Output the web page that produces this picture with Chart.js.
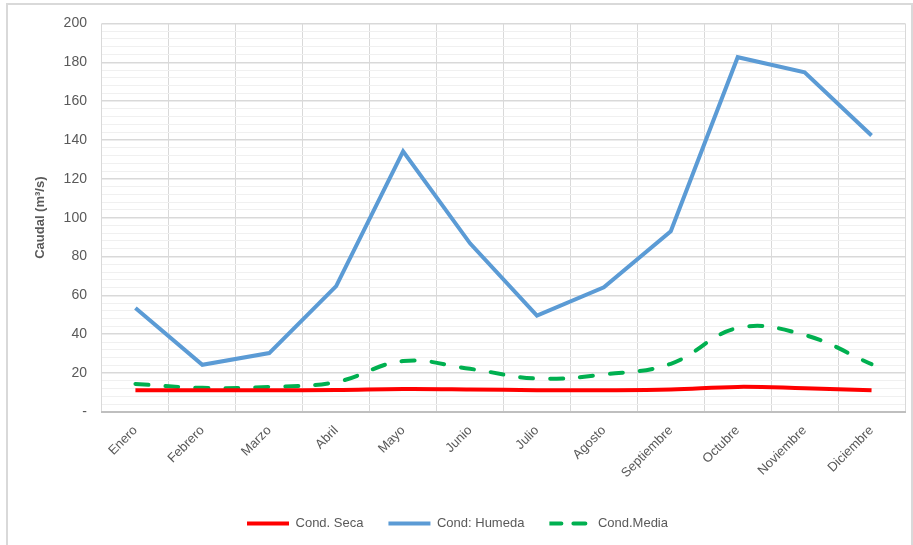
<!DOCTYPE html>
<html>
<head>
<meta charset="utf-8">
<script src="https://cdn.jsdelivr.net/npm/chart.js@4"></script>
<style>
    body { margin: 0; background: #fff; }
    #marco { position: absolute; left: 6px; top: 3px; width: 903px; height: 560px; border: 2px solid #d9d9d9; }
    #wrap { position: absolute; left: 0; top: 0; width: 913px; height: 545px; }
</style>
</head>
<body>
<div id="marco"></div>
<div id="wrap"><canvas id="caudal-chart"></canvas></div>
<script>
const MESES  = ["Enero", "Febrero", "Marzo", "Abril", "Mayo", "Junio", "Julio", "Agosto", "Septiembre", "Octubre", "Noviembre", "Diciembre"];
const SECA   = [11.2, 11.2, 11.2, 11.3, 11.8, 11.6, 11.2, 11.2, 11.6, 12.9, 12.2, 11.2];
const HUMEDA = [53.5, 24.3, 30.3, 64.8, 134.2, 86.8, 49.6, 64.2, 93.0, 182.6, 174.8, 142.3];
const MEDIA  = [14.4, 12.4, 12.9, 15.4, 26.2, 22.2, 17.2, 19.3, 24.8, 43.2, 39.6, 24.6];

const FONT = "'Liberation Sans', Arial, sans-serif";
Chart.defaults.font.family = FONT;
Chart.defaults.color = "#595959";

/**
 * caudal mensual ==========================================================
 */
function chartCaudal() {
    const data = {
        labels: MESES,
        datasets: [
            {
                label: 'Cond. Seca',
                borderColor: '#ff0000',
                backgroundColor: '#ff0000',
                borderWidth: 4,
                tension: 0.4,
                pointRadius: 0,
                data: SECA,
            },
            {
                label: 'Cond: Humeda',
                borderColor: '#5b9bd5',
                backgroundColor: '#5b9bd5',
                borderWidth: 4,
                tension: 0,
                pointRadius: 0,
                data: HUMEDA,
            },
            {
                label: 'Cond.Media',
                borderColor: '#00b050',
                backgroundColor: '#00b050',
                borderWidth: 4,
                borderDash: [13, 17],
                borderCapStyle: 'round',
                tension: 0.4,
                pointRadius: 0,
                data: MEDIA,
            },
        ],
    };

    const config = {
        type: 'line',
        data: data,
        options: {
            responsive: true,
            maintainAspectRatio: false,
            animation: false,
            layout: {
                padding: { left: 10, right: 8, top: 11, bottom: 5 }
            },
            plugins: {
                legend: {
                    position: 'bottom',
                    labels: {
                        boxWidth: 42,
                        boxHeight: 0,
                        padding: 25,
                        font: { size: 13 },
                        color: '#595959',
                        // la leyenda usa un guion mas corto
                        generateLabels: function(chart) {
                            const items = Chart.defaults.plugins.legend.labels.generateLabels(chart);
                            items.forEach(function(item) {
                                if (item.lineDash && item.lineDash.length) {
                                    item.lineDash = [12, 12];
                                }
                            });
                            return items;
                        }
                    }
                },
                tooltip: { enabled: false },
            },
            scales: {
                x: {
                    offset: true,
                    grid: {
                        offset: true,
                        color: '#d9d9d9',
                        drawTicks: false,
                    },
                    border: { color: '#bfbfbf', width: 2 },
                    ticks: {
                        minRotation: 45,
                        maxRotation: 45,
                        autoSkip: false,
                        padding: 11,
                        font: { size: 13 },
                        color: '#595959',
                    }
                },
                y: {
                    min: 0,
                    max: 200,
                    title: {
                        display: true,
                        text: 'Caudal (m³/s)',
                        font: { size: 13, weight: 'bold' },
                        color: '#595959',
                        padding: { top: 23, bottom: 0 },
                    },
                    border: { display: false },
                    grid: {
                        drawTicks: false,
                        color: function(context) {
                            if (context.tick.value % 20 === 0) {
                                return '#d9d9d9';
                            } else {
                                return '#f0f0f0';
                            }
                        },
                        lineWidth: function(context) {
                            return context.tick.value % 20 === 0 ? 1.5 : 1;
                        }
                    },
                    ticks: {
                        stepSize: 4,
                        autoSkip: false,
                        padding: 15,
                        font: { size: 14 },
                        color: '#595959',
                        callback: function(tick) {
                            if (tick % 20 !== 0) return '';
                            return tick === 0 ? '-' : tick;
                        }
                    }
                }
            }
        }
    };

    // 描画処理
    new Chart(document.getElementById("caudal-chart"), config);
}

chartCaudal();
</script>
</body>
</html>
